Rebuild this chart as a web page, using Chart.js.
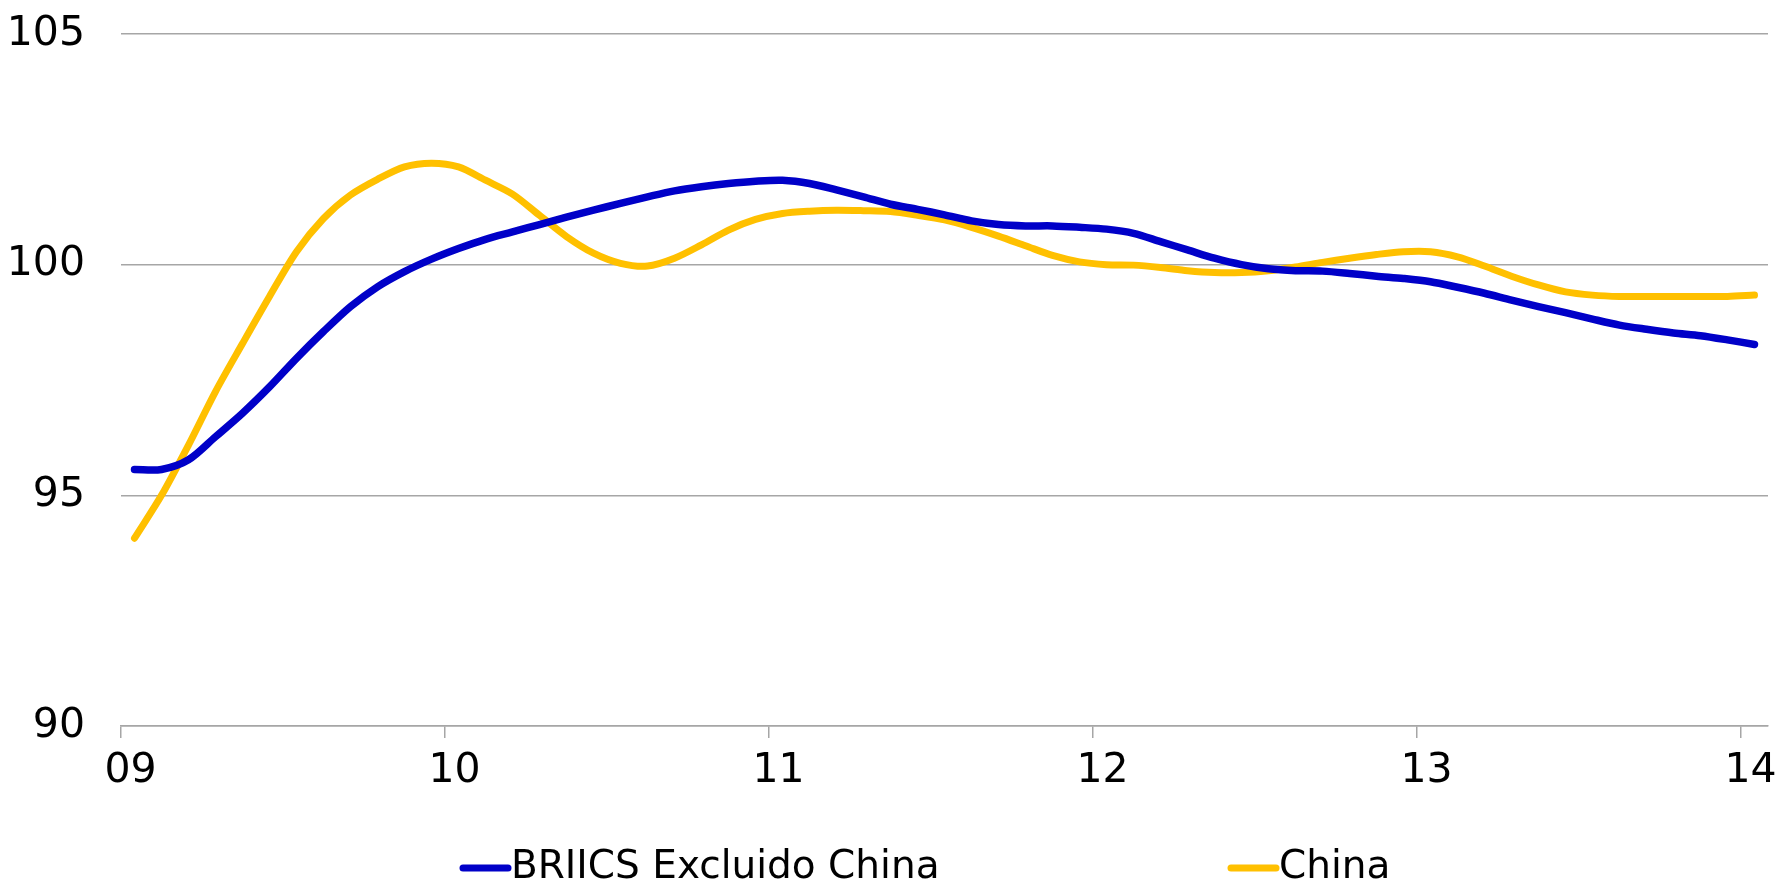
<!DOCTYPE html>
<html>
<head>
<meta charset="utf-8">
<script src="https://cdn.jsdelivr.net/npm/chart.js@4.4.0/dist/chart.umd.min.js"></script>
<style>
  html, body { margin: 0; padding: 0; background: #fff; }
  #wrap { width: 1783px; height: 881px; }
</style>
</head>
<body>
<div id="wrap"><canvas id="chart"></canvas></div>
<script>
// meses ene-09 ... ene-14
const months = [
  'ene-09','feb-09','mar-09','abr-09','may-09','jun-09','jul-09','ago-09','sep-09','oct-09','nov-09','dic-09',
  'ene-10','feb-10','mar-10','abr-10','may-10','jun-10','jul-10','ago-10','sep-10','oct-10','nov-10','dic-10',
  'ene-11','feb-11','mar-11','abr-11','may-11','jun-11','jul-11','ago-11','sep-11','oct-11','nov-11','dic-11',
  'ene-12','feb-12','mar-12','abr-12','may-12','jun-12','jul-12','ago-12','sep-12','oct-12','nov-12','dic-12',
  'ene-13','feb-13','mar-13','abr-13','may-13','jun-13','jul-13','ago-13','sep-13','oct-13','nov-13','dic-13',
  'ene-14'
];

const briicsExChina = [
  95.56, 95.56, 95.77, 96.27, 96.78, 97.35, 97.97, 98.55, 99.09, 99.52, 99.85, 100.12,
  100.35, 100.55, 100.71, 100.87, 101.03, 101.18, 101.33, 101.47, 101.60, 101.69, 101.76, 101.81,
  101.83, 101.76, 101.62, 101.47, 101.31, 101.20, 101.08, 100.95, 100.87, 100.84, 100.84, 100.81,
  100.77, 100.68, 100.50, 100.32, 100.14, 100.00, 99.91, 99.87, 99.86, 99.81, 99.75, 99.70,
  99.63, 99.51, 99.38, 99.23, 99.09, 98.96, 98.82, 98.69, 98.60, 98.52, 98.46, 98.37,
  98.27
];

const china = [
  94.07, 95.00, 96.09, 97.25, 98.29, 99.31, 100.28, 101.00, 101.51, 101.85, 102.12, 102.20,
  102.12, 101.83, 101.53, 101.07, 100.61, 100.25, 100.03, 99.97, 100.14, 100.43, 100.75, 100.98,
  101.11, 101.16, 101.18, 101.17, 101.15, 101.07, 100.97, 100.81, 100.62, 100.41, 100.20, 100.06,
  100.00, 99.99, 99.94, 99.87, 99.83, 99.83, 99.87, 99.95, 100.05, 100.14, 100.22, 100.28,
  100.28, 100.17, 99.97, 99.75, 99.56, 99.41, 99.34, 99.31, 99.31, 99.31, 99.31, 99.31,
  99.34
];

const seriesNames = ['BRIICS Excluido China', 'China'];
const seriesColors = ['#0000c8', '#ffc000'];
const yTicks = [90, 95, 100, 105];

const gridGray = '#a6a6a6';
const fontFamily = "'DejaVu Sans', sans-serif";

// leyenda dibujada a mano (los items estan muy separados en el original)
const bottomLegend = {
  id: 'bottomLegend',
  afterDraw(chart, args, opts) {
    const ctx = chart.ctx;
    ctx.save();
    ctx.font = opts.fontSize + 'px ' + fontFamily;
    ctx.textBaseline = 'middle';
    ctx.textAlign = 'left';
    chart.data.datasets.forEach((ds, i) => {
      const x = opts.xs[i];
      ctx.strokeStyle = ds.borderColor;
      ctx.lineWidth = 7;
      ctx.lineCap = 'round';
      ctx.beginPath();
      ctx.moveTo(x + 3, opts.y);
      ctx.lineTo(x + opts.lineLen, opts.y);
      ctx.stroke();
      ctx.fillStyle = '#000';
      ctx.fillText(ds.label, x + opts.lineLen + 3, opts.y);
    });
    ctx.restore();
  }
};

const ctx = document.getElementById('chart').getContext('2d');

new Chart(ctx, {
  type: 'line',
  data: {
    labels: months,
    datasets: [
      {
        label: seriesNames[0],
        data: briicsExChina,
        borderColor: seriesColors[0],
        borderWidth: 7.5,
        pointRadius: 0,
        tension: 0.3,
        borderCapStyle: 'round'
      },
      {
        label: seriesNames[1],
        data: china,
        borderColor: seriesColors[1],
        borderWidth: 7,
        pointRadius: 0,
        tension: 0.3,
        borderCapStyle: 'round'
      }
    ]
  },
  options: {
    responsive: true,
    maintainAspectRatio: false,
    animation: false,
    layout: { padding: { top: 34, right: 15, left: 0, bottom: 0 } },
    plugins: {
      legend: { display: false },
      tooltip: { enabled: false },
      bottomLegend: { xs: [460, 1228], y: 868, lineLen: 48, fontSize: 39 }
    },
    scales: {
      x: {
        type: 'category',
        offset: true,
        grid: {
          offset: true,
          drawOnChartArea: false,
          drawTicks: true,
          tickLength: 12,
          lineWidth: 1.5,
          tickColor: c => (c.tick && c.tick.label) ? gridGray : 'rgba(0,0,0,0)'
        },
        border: { display: true, color: gridGray, width: 1.5 },
        ticks: {
          autoSkip: false,
          maxRotation: 0,
          padding: 9,
          labelOffset: -4,
          color: '#000',
          font: { family: fontFamily, size: 41 },
          callback: function (value) {
            const lab = this.getLabelForValue(value);
            return lab.startsWith('ene') ? lab.slice(4) : '';
          }
        },
        // las etiquetas no deben empujar el area del grafico
        afterFit: scale => { scale.height = 155; scale.paddingRight = 0; scale.paddingLeft = 0; }
      },
      y: {
        min: 90,
        max: 105,
        afterBuildTicks: axis => { axis.ticks = yTicks.map(v => ({ value: v })); },
        grid: { color: gridGray, lineWidth: 1.5, drawTicks: false },
        border: { display: false },
        ticks: {
          padding: 36,
          color: '#000',
          font: { family: fontFamily, size: 41 }
        },
        afterFit: scale => { scale.width = 121; scale.paddingTop = 0; scale.paddingBottom = 0; }
      }
    }
  },
  plugins: [bottomLegend]
});
</script>
</body>
</html>
